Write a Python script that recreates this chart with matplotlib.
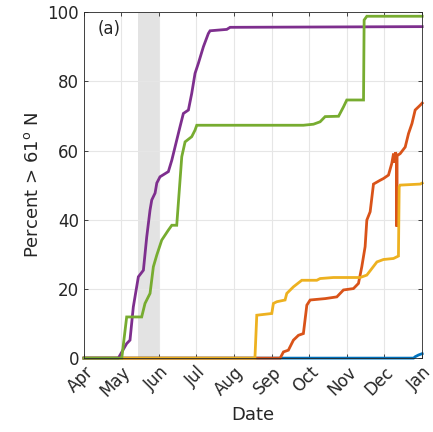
import matplotlib

matplotlib.use("Agg")
import matplotlib.pyplot as plt

# x = days since 1 April, y = percent of track north of 61 N
month_labels = ["Apr", "May", "Jun", "Jul", "Aug", "Sep", "Oct", "Nov", "Dec", "Jan"]
month_days = [0, 30, 61, 91, 122, 153, 183, 214, 244, 275]
shade_days = (44, 61)

blue_x = [0, 268, 269.3, 272, 275]
blue_y = [0, 0, 0.4, 0.9, 1.3]

orange_x = [0, 159.5, 162.2, 166.2, 170.3, 174.4, 178.4, 181.2, 183.9, 196.1, 205.6,
            211, 219.1, 223.2, 225.9, 228.6, 230, 232.7, 235.4, 240.8, 243.5, 247.6,
            250.3, 251.7, 252.5, 253.3, 254.2, 254.4, 254.6, 257.1, 261.2, 263.9,
            266.7, 269.3, 273.4, 275]
orange_y = [0, 0, 1.8, 2.3, 5.2, 6.6, 7.1, 15.3, 16.8, 17.2, 17.7,
            19.7, 20.1, 21.6, 26.4, 32.2, 39.9, 42.3, 50.3, 51.4, 51.9, 52.9,
            56.3, 59.1, 56.5, 59.5, 58.5, 38, 58.5, 59.1, 61, 64.9,
            67.8, 71.7, 73.1, 73.7]

yellow_x = [0, 139, 140.5, 152.7, 154, 156.8, 163.5, 164.9, 170.3, 177.1, 189.3,
            192, 202.8, 224.6, 230, 234.1, 238.2, 243.5, 251.7, 255.7, 256.3,
            257.1, 273.4, 275]
yellow_y = [0, 0, 12.4, 12.9, 15.8, 16.3, 16.8, 18.7, 20.6, 22.5, 22.5,
            23, 23.3, 23.3, 24, 25.9, 27.8, 28.5, 28.8, 29.5, 49.5,
            50, 50.3, 50.6]

purple_x = [0, 27.9, 34.7, 37.4, 40.1, 44.2, 48.3, 51.0, 53.7, 55.1, 57.8, 59.2,
            61.8, 68.6, 71.4, 75.4, 78.1, 80.8, 84.9, 87.6, 90.3, 93.0, 97.1,
            101.1, 102.5, 116.1, 118.8, 275]
purple_y = [0, 0, 4.2, 5.2, 14.8, 23.5, 25.4, 35, 42.8, 45.7, 47.7, 50.6,
            52.4, 53.9, 57.2, 63, 66.9, 70.7, 71.7, 76.5, 82.3, 85.2, 90,
            93.8, 94.6, 95, 95.6, 95.8]

green_x = [0, 30.7, 34.7, 46.9, 49.6, 53.7, 56.4, 59.2, 63.2, 68.6, 71.4, 75.4,
           79.5, 82.2, 87.6, 90.3, 91.7, 178.4, 186.6, 192, 196.1, 207, 211,
           213.7, 227.3, 227.8, 230, 275]
green_y = [0, 0, 11.9, 11.9, 15.8, 18.7, 26.4, 29.8, 34.1, 37, 38.4, 38.4,
           58.2, 62.5, 64, 65.9, 67.3, 67.3, 67.6, 68.3, 69.8, 69.9, 72.6,
           74.6, 74.6, 97.7, 98.8, 98.8]

series = [
    (blue_x, blue_y, "#0072BD"),
    (orange_x, orange_y, "#D95319"),
    (yellow_x, yellow_y, "#EDB120"),
    (purple_x, purple_y, "#7E2F8E"),
    (green_x, green_y, "#77AC30"),
]

text_col = "#262626"
plt.rcParams["font.family"] = "DejaVu Sans"

fig = plt.figure(figsize=(4.33, 4.32), dpi=100)
ax = fig.add_axes([0.194, 0.171, 0.781, 0.801])

ax.axvspan(*shade_days, color="#e3e3e3", lw=0, zorder=0)
for x, y, c in series:
    ax.plot(x, y, color=c, lw=2.0, solid_joinstyle="miter", clip_on=False, zorder=2)

ax.set_xlim(month_days[0], month_days[-1])
ax.set_ylim(0, 100)
ax.set_xticks(month_days)
ax.set_xticklabels(month_labels, rotation=45, ha="right", rotation_mode="anchor")
ax.set_yticks(range(0, 101, 20))
ax.grid(True, color="#e6e6e6", lw=0.8, zorder=1)
ax.set_axisbelow(True)

ax.tick_params(direction="in", length=3, width=0.6, colors="#262626",
               labelsize=12, labelcolor=text_col, top=True, right=True)
for s in ax.spines.values():
    s.set_color("#262626")
    s.set_linewidth(0.6)

ax.set_xlabel("Date", fontsize=13, color=text_col)
ax.set_ylabel("Percent > 61$^{\\rm o}$ N", fontsize=13, color=text_col)
ax.text(0.04, 0.95, "(a)", transform=ax.transAxes, fontsize=12, color=text_col,
        va="center", ha="left")

fig.savefig("out.png", dpi=100)
